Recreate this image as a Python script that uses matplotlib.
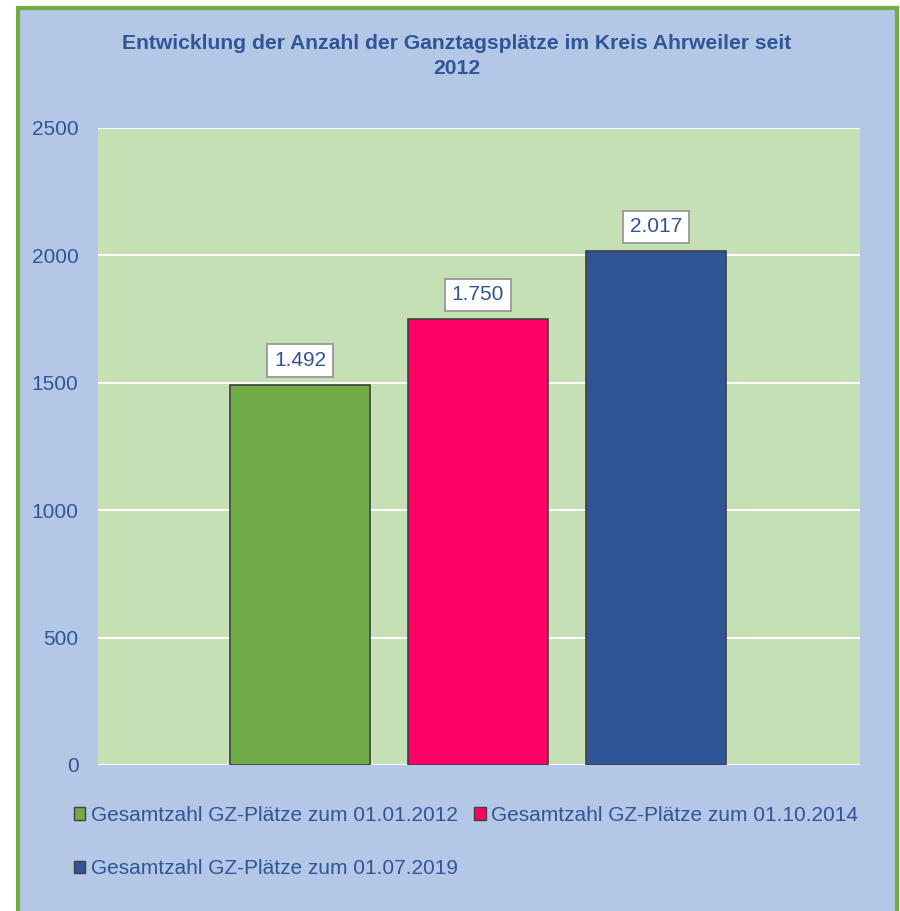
import matplotlib
matplotlib.use("Agg")
import matplotlib.pyplot as plt
from matplotlib.patches import Rectangle, Patch

plt.rcParams['font.family'] = ['Liberation Sans', 'DejaVu Sans']

title = "Entwicklung der Anzahl der Ganztagsplätze im Kreis Ahrweiler seit\n2012"
series = ["Gesamtzahl GZ-Plätze zum 01.01.2012",
          "Gesamtzahl GZ-Plätze zum 01.10.2014",
          "Gesamtzahl GZ-Plätze zum 01.07.2019"]
values = [1492, 1750, 2017]
labels = ["1.492", "1.750", "2.017"]
yticks = [0, 500, 1000, 1500, 2000, 2500]

colors = ["#70AD47", "#FF0066", "#2F5597"]
textcol = "#2F5597"

fig = plt.figure(figsize=(9.0, 9.11), dpi=100)
fig.patch.set_facecolor("white")
# outer chart area with green border
fig.patches.append(Rectangle((18/900, -0.01), (897-18)/900, 1 - 8/911 + 0.01,
                             transform=fig.transFigure, facecolor="#B4C7E7",
                             edgecolor="#70AD47", linewidth=3, zorder=-10))

ax = fig.add_axes([98/900, 1-765/911, (860-98)/900, (765-128)/911])
ax.set_zorder(1)
ax.set_facecolor("#C5E0B4")
x = list(range(len(values)))
bars = ax.bar(x, values, width=0.787, color=colors, edgecolor="#404040",
              linewidth=1.2, zorder=3)
ax.set_xlim(-1.135, 3.146)
ax.set_ylim(0, 2500)
ax.set_yticks(yticks)
ax.set_yticklabels([str(v) for v in yticks], fontsize=15, color=textcol)
ax.tick_params(axis='y', length=0, pad=14)
ax.set_xticks([])
for s in ax.spines.values():
    s.set_visible(False)
ax.grid(axis='y', color="white", linewidth=1.5, zorder=1)
ax.set_axisbelow(True)

for xi, v, lab in zip(x, values, labels):
    ax.annotate(lab, (xi, v), xytext=(0, 17.5), textcoords="offset points",
                ha="center", va="center", fontsize=15, color=textcol, zorder=5,
                bbox=dict(boxstyle="square,pad=0.32", facecolor="white",
                          edgecolor="#999999", linewidth=1.3))

fig.text(457/900, 1-56/911, title, ha="center", va="center", fontsize=15.2,
         fontweight="bold", color=textcol, linespacing=1.35)

handles = [Patch(facecolor=c, edgecolor="#404040", linewidth=1) for c in colors]
order = [0, 2, 1]
leg = fig.legend([handles[i] for i in order], [series[i] for i in order],
                 ncol=2, loc="center left", bbox_to_anchor=(74/900, 1-842/911),
                 frameon=False, fontsize=15, handlelength=0.55, handleheight=0.55,
                 handletextpad=0.25, columnspacing=0.8, labelspacing=1.65,
                 borderaxespad=0, borderpad=0)
for t in leg.get_texts():
    t.set_color(textcol)

fig.savefig("out.png", dpi=100, facecolor=fig.get_facecolor())
